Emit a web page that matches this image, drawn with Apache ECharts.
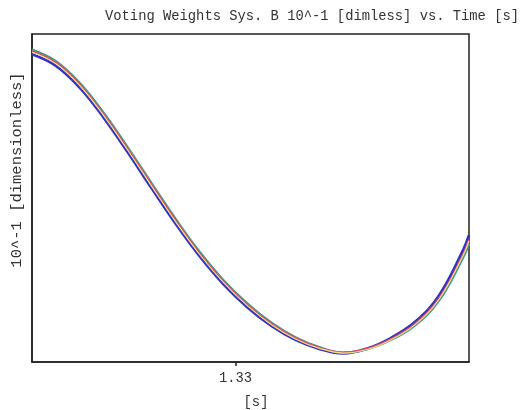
<!DOCTYPE html>
<html>
<head>
<meta charset="utf-8">
<script src="https://cdn.jsdelivr.net/npm/echarts@6/dist/echarts.min.js"></script>
<style>
  html, body { margin: 0; padding: 0; background: #ffffff; }
  #chart { width: 523px; height: 410px; }
</style>
</head>
<body>
<div id="chart"></div>
<script>
// Sample times [s]
const times = [1.296, 1.300, 1.304, 1.308, 1.312, 1.316, 1.320, 1.324, 1.328, 1.332,
               1.336, 1.340, 1.344, 1.348, 1.352, 1.356, 1.360, 1.364, 1.368, 1.369];

// Voting weights, one array per channel [10^-1 dimensionless]
const weightTeal   = [3.811, 3.670, 3.404, 3.038, 2.618, 2.178, 1.746, 1.344, 0.998, 0.712,
                      0.479, 0.301, 0.181, 0.116, 0.156, 0.270, 0.447, 0.748, 1.268, 1.441];
const weightRed    = [3.793, 3.652, 3.384, 3.018, 2.598, 2.158, 1.726, 1.326, 0.981, 0.696,
                      0.466, 0.291, 0.176, 0.116, 0.162, 0.282, 0.467, 0.777, 1.311, 1.490];
const weightYellow = [3.778, 3.637, 3.369, 3.002, 2.582, 2.142, 1.710, 1.311, 0.968, 0.684,
                      0.455, 0.281, 0.167, 0.109, 0.153, 0.272, 0.456, 0.765, 1.296, 1.475];
const weightBlue   = [3.753, 3.612, 3.344, 2.978, 2.558, 2.118, 1.686, 1.290, 0.948, 0.666,
                      0.440, 0.270, 0.161, 0.106, 0.164, 0.294, 0.489, 0.811, 1.360, 1.545];

// Labelled time ticks
const timeTicks = [1.33];

const titleText = 'Voting Weights Sys. B 10^-1 [dimless] vs. Time [s]';
const yLabelText = '10^-1 [dimensionless]';
const xLabelText = '[s]';

const mono = '"Liberation Mono", "Courier New", monospace';

function pairs(xs, ys) {
  return xs.map((x, i) => [x, ys[i]]);
}

function lineSeries(name, values, color, width, z) {
  return {
    name: name,
    type: 'line',
    data: pairs(times, values),
    smooth: 0.4,
    showSymbol: false,
    lineStyle: { color: color, width: width },
    z: z
  };
}

const chart = echarts.init(document.getElementById('chart'), null, { renderer: 'canvas' });

chart.setOption({
  backgroundColor: '#ffffff',
  animation: false,
  grid: {
    left: 32, top: 34, right: 54, bottom: 48,
    show: true,
    borderColor: '#222222',
    borderWidth: 1.5,
    backgroundColor: '#ffffff'
  },
  graphic: [
    {
      type: 'text',
      right: 4, top: 9,
      style: { text: titleText, font: '13.8px ' + mono, fill: '#333333' }
    },
    {
      type: 'text',
      x: 17, y: 170,
      rotation: Math.PI / 2,
      style: {
        text: yLabelText, font: '15.5px ' + mono, fill: '#333333',
        align: 'center', verticalAlign: 'middle'
      }
    },
    {
      type: 'text',
      x: 256, y: 402,
      style: {
        text: xLabelText, font: '13.8px ' + mono, fill: '#333333',
        align: 'center', verticalAlign: 'middle'
      }
    }
  ],
  xAxis: {
    type: 'value',
    min: 1.296,
    max: 1.369,
    axisLine: { show: true, lineStyle: { color: '#222222', width: 1.5 } },
    axisTick: {
      show: true, length: 4, inside: false,
      customValues: timeTicks,
      lineStyle: { color: '#222222', width: 1.5 }
    },
    axisLabel: {
      show: true,
      customValues: timeTicks,
      margin: 9,
      fontFamily: mono,
      fontSize: 13.8,
      color: '#333333',
      formatter: v => v.toFixed(2)
    },
    splitLine: { show: false }
  },
  yAxis: {
    type: 'value',
    min: 0,
    max: 4,
    axisLine: { show: true, lineStyle: { color: '#222222', width: 1.5 } },
    axisTick: { show: false },
    axisLabel: { show: false },
    splitLine: { show: false }
  },
  series: [
    lineSeries('blue', weightBlue, '#3434c4', 2.8, 2),
    lineSeries('teal', weightTeal, '#45988c', 2.2, 3),
    lineSeries('red', weightRed, '#e0505c', 1.8, 4),
    lineSeries('yellow', weightYellow, '#efdf8e', 1.2, 5)
  ]
});
</script>
</body>
</html>
